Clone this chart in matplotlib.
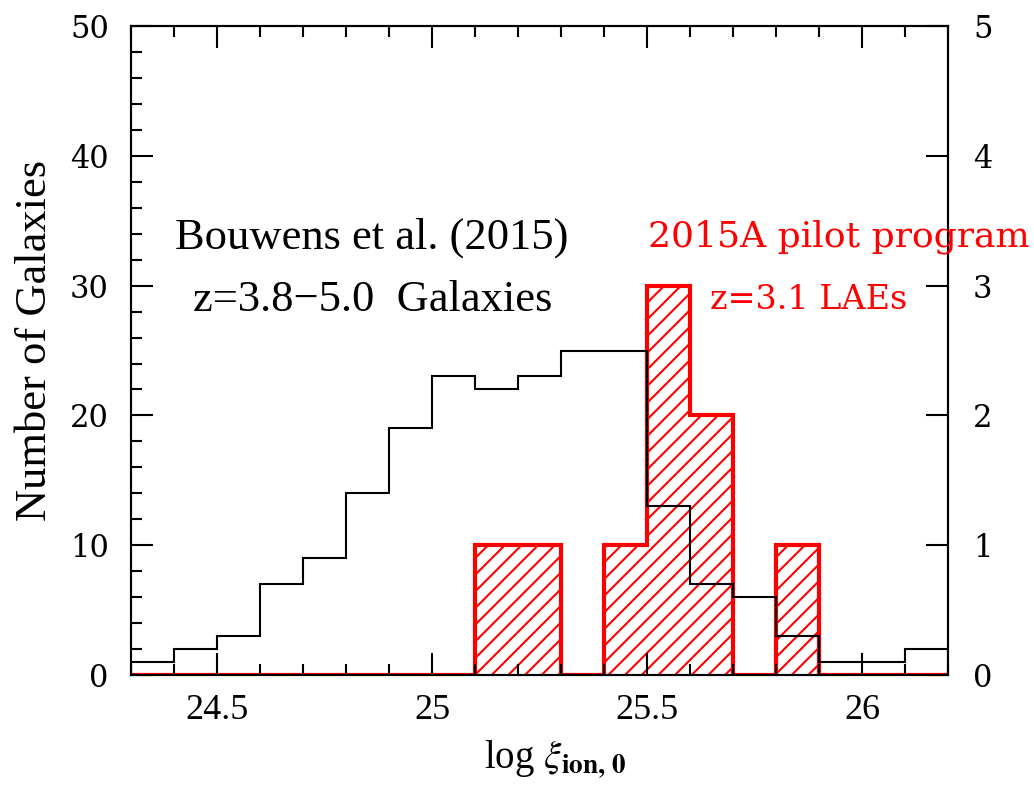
import matplotlib.pyplot as plt
from matplotlib.ticker import MultipleLocator, FuncFormatter

plt.rcParams['hatch.linewidth'] = 1.5
plt.rcParams['mathtext.fontset'] = 'stix'

# bins in log xi_ion,0 (width 0.1)
bin_edges = [24.3, 24.4, 24.5, 24.6, 24.7, 24.8, 24.9, 25.0, 25.1, 25.2,
             25.3, 25.4, 25.5, 25.6, 25.7, 25.8, 25.9, 26.0, 26.1, 26.2]
# Bouwens et al. (2015), z=3.8-5.0 galaxies (left axis)
bouwens_counts = [1, 2, 3, 7, 9, 14, 19, 23, 22, 23, 25, 25, 13, 7, 6, 3, 1, 1, 2]
# 2015A pilot program, z=3.1 LAEs (right axis)
lae_counts = [0, 0, 0, 0, 0, 0, 0, 0, 1, 1, 0, 1, 3, 2, 0, 1, 0, 0, 0]

fig = plt.figure(figsize=(10.34, 7.91), dpi=100)
ax = fig.add_axes([0.1267, 0.1466, 0.7901, 0.8205])
ax2 = ax.twinx()
ax.set_zorder(ax2.get_zorder() + 1)  # black histogram above the red one
ax.patch.set_visible(False)

# red hatched histogram
ax2.stairs(lae_counts, bin_edges, fill=True, facecolor='none',
           edgecolor='red', hatch='//', linewidth=0)
ax2.stairs(lae_counts, bin_edges, color='red', linewidth=3.0)

# black step histogram
ax.stairs(bouwens_counts, bin_edges, color='black', linewidth=1.5)

ax.set_xlim(24.3, 26.2)
ax.set_ylim(0, 50)
ax2.set_ylim(0, 5)

ax.xaxis.set_major_locator(MultipleLocator(0.5))
ax.xaxis.set_minor_locator(MultipleLocator(0.1))
ax.xaxis.set_major_formatter(FuncFormatter(lambda v, p: '%g' % v))
ax.yaxis.set_major_locator(MultipleLocator(10))
ax.yaxis.set_minor_locator(MultipleLocator(2))
ax2.yaxis.set_major_locator(MultipleLocator(1))

ax.tick_params(axis='both', which='both', direction='in', top=True, right=False, width=1.5)
ax.tick_params(axis='both', which='major', length=16)
ax.tick_params(axis='both', which='minor', length=8)
ax.tick_params(axis='y', which='major', pad=16, labelsize=22, labelfontfamily='DejaVu Serif')
ax.tick_params(axis='x', which='major', pad=14, labelsize=26, labelfontfamily='Liberation Serif')
ax2.tick_params(axis='y', which='major', direction='in', length=16, width=1.5, pad=18,
                labelsize=22, labelfontfamily='DejaVu Serif')

for sp in ax.spines.values():
    sp.set_linewidth(1.5)
for sp in ax2.spines.values():
    sp.set_linewidth(1.5)

ax.set_ylabel('Number of Galaxies', fontsize=32, family='Liberation Serif')
ax.yaxis.set_label_coords(-0.093, 0.516)
ax.set_xlabel(r'log $\xi_{\mathbf{ion,\,0}}$', fontsize=28, family='Liberation Serif',
              x=0.519, labelpad=8)

ax.text(0.295, 0.673, 'Bouwens et al. (2015)', transform=ax.transAxes,
        ha='center', va='center', fontsize=32, family='Liberation Serif')
ax.text(0.296, 0.578, 'z=3.8\u22125.0  Galaxies', transform=ax.transAxes,
        ha='center', va='center', fontsize=32, family='Liberation Serif')
ax.text(0.633, 0.675, '2015A pilot program', transform=ax.transAxes,
        ha='left', va='center', fontsize=26, family='DejaVu Serif', color='red')
ax.text(0.709, 0.578, 'z=3.1 LAEs', transform=ax.transAxes,
        ha='left', va='center', fontsize=24, family='DejaVu Serif', color='red')

fig.savefig('out.png', dpi=100)
